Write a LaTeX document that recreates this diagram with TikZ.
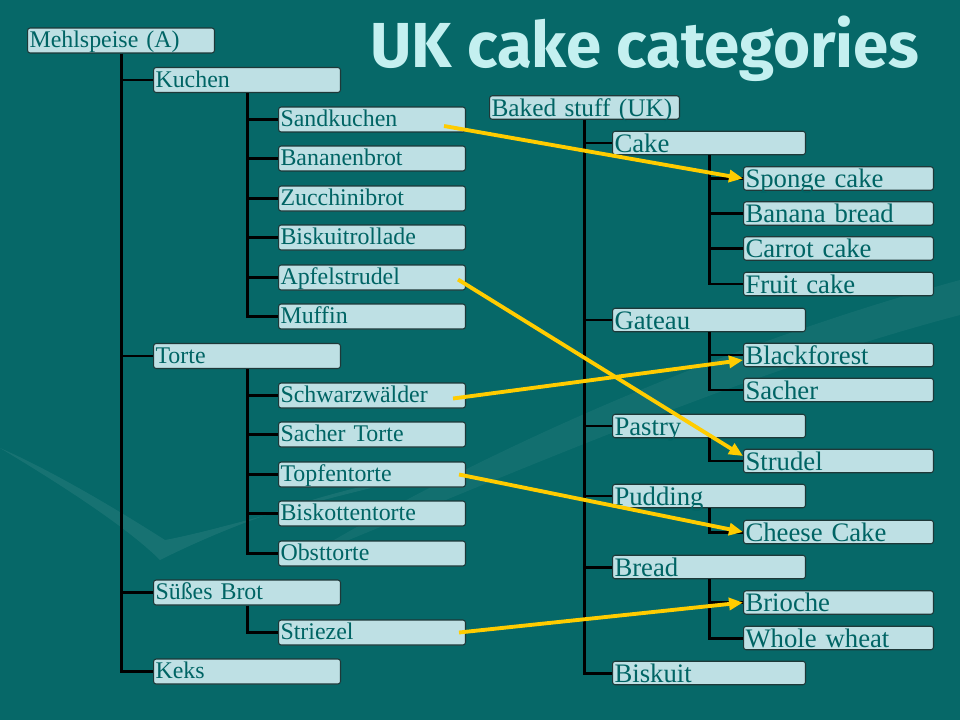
\documentclass[tikz,border=0pt]{standalone}
\usepackage{fontspec}
\setmainfont{Liberation Serif}[WordSpace=0.7]
\newfontfamily\titlefont{Fira Sans}
\usetikzlibrary{arrows.meta}
\definecolor{slidebg}{RGB}{6,104,104}
\definecolor{boxfill}{RGB}{190,224,228}
\definecolor{boxline}{RGB}{30,56,56}
\definecolor{boxtext}{RGB}{0,100,100}
\definecolor{titlecol}{RGB}{196,240,240}
\definecolor{linkcol}{RGB}{255,204,0}
\tikzset{>/.tip={Triangle[length=0.28cm,width=0.24cm]},
  deBox/.style={draw=boxline, line width=0.6pt, fill=boxfill, rounded corners=1.5pt, anchor=west,
    align=left, text width=3.66cm, inner xsep=0.04cm, inner ysep=0pt, minimum height=0.5cm,
    text height=9.5pt, text depth=1.5pt, text=boxtext, font=\fontsize{13.6}{14}\selectfont},
  ukBox/.style={deBox, text width=3.72cm, minimum height=0.47cm, text height=11pt, text depth=0.5pt,
    font=\fontsize{15.2}{16}\selectfont},
  ukMid/.style={ukBox, text width=3.78cm},
  branch/.style={line width=1.7pt, black},
  link/.style={->, line width=2.2pt, linkcol}}

\begin{document}
\begin{tikzpicture}[x=0.02cm, y=-0.02cm]
\fill[slidebg] (0,0) rectangle (960,720);
\useasboundingbox (0,0) rectangle (960,720);
% faint swoosh in the background
\fill[white, opacity=0.07] (0,448) .. controls (70,490) and (130,530) .. (160,560) .. controls (240,520) and (340,485) .. (450,470) .. controls (330,495) and (220,530) .. (165,540) .. controls (110,505) and (50,470) .. (0,448);
\fill[white, opacity=0.05] (300,560) .. controls (500,440) and (740,340) .. (960,280) -- (960,315) .. controls (750,370) and (520,470) .. (300,560);

\node[font=\titlefont\bfseries\fontsize{36.2}{42}\selectfont, text=titlecol, anchor=base] (title) at (645,67) {UK cake categories};

% German tree
\node[deBox] (mehl) at (27,40.5) {Mehlspeise (A)};
\node[deBox] (kuchen) at (153,80) {Kuchen};
\node[deBox] (sandk) at (278,119.5) {Sandkuchen};
\node[deBox] (banan) at (278,158.5) {Bananenbrot};
\node[deBox] (zucch) at (278,198.5) {Zucchinibrot};
\node[deBox] (biskr) at (278,237.5) {Biskuitrollade};
\node[deBox] (apfel) at (278,277.5) {Apfelstrudel};
\node[deBox] (muffin) at (278,316.5) {Muffin};
\node[deBox] (torte) at (153,356) {Torte};
\node[deBox] (schwarz) at (278,395.5) {Schwarzwälder};
\node[deBox] (sacher) at (278,434.5) {Sacher Torte};
\node[deBox] (topfen) at (278,474.5) {Topfentorte};
\node[deBox] (biskot) at (278,513.5) {Biskottentorte};
\node[deBox] (obst) at (278,553.5) {Obsttorte};
\node[deBox] (suess) at (153,592.5) {Süßes Brot};
\node[deBox] (striezel) at (278,632.5) {Striezel};
\node[deBox] (keks) at (153,671.5) {Keks};

% UK tree
\node[ukBox, font=\fontsize{14.4}{16}\selectfont] (baked) at (489,107.5) {\mbox{Baked stuff (UK)}};
\node[ukMid] (cake) at (612,143) {Cake};
\node[ukBox] (sponge) at (743,178.5) {Sponge cake};
\node[ukBox] (banana) at (743,213.5) {Banana bread};
\node[ukBox] (carrot) at (743,248.5) {Carrot cake};
\node[ukBox] (fruit) at (743,284) {Fruit cake};
\node[ukMid] (gateau) at (612,320) {Gateau};
\node[ukBox] (blackf) at (743,355) {Blackforest};
\node[ukBox] (sacherUK) at (743,390) {Sacher};
\node[ukMid] (pastry) at (612,426) {Pastry};
\node[ukBox] (strudel) at (743,461) {Strudel};
\node[ukMid] (pudding) at (612,496) {Pudding};
\node[ukBox] (cheese) at (743,532) {Cheese Cake};
\node[ukMid] (bread) at (612,567) {Bread};
\node[ukBox] (brioche) at (743,602.5) {Brioche};
\node[ukBox] (whole) at (743,638) {Whole wheat};
\node[ukMid] (biskuit) at (612,673) {Biskuit};

\draw[branch] (mehl.south) |- (kuchen.west) (mehl.south) |- (torte.west) (mehl.south) |- (suess.west) (mehl.south) |- (keks.west);
\draw[branch] (kuchen.south) |- (sandk.west) (kuchen.south) |- (banan.west) (kuchen.south) |- (zucch.west) (kuchen.south) |- (biskr.west) (kuchen.south) |- (apfel.west) (kuchen.south) |- (muffin.west);
\draw[branch] (torte.south) |- (schwarz.west) (torte.south) |- (sacher.west) (torte.south) |- (topfen.west) (torte.south) |- (biskot.west) (torte.south) |- (obst.west);
\draw[branch] (suess.south) |- (striezel.west);

\draw[branch] (baked.south) |- (cake.west) (baked.south) |- (gateau.west) (baked.south) |- (pastry.west) (baked.south) |- (pudding.west) (baked.south) |- (bread.west) (baked.south) |- (biskuit.west);
\draw[branch] (cake.south) |- (sponge.west) (cake.south) |- (banana.west) (cake.south) |- (carrot.west) (cake.south) |- (fruit.west);
\draw[branch] (gateau.south) |- (blackf.west) (gateau.south) |- (sacherUK.west);
\draw[branch] (pastry.south) |- (strudel.west);
\draw[branch] (pudding.south) |- (cheese.west);
\draw[branch] (bread.south) |- (brioche.west) (bread.south) |- (whole.west);

% links
\draw[link] ([xshift=-0.44cm,yshift=-0.13cm]sandk.east) -- (sponge.west);
\draw[link] ([xshift=-0.16cm,yshift=-0.04cm]apfel.east) -- ([yshift=0.1cm]strudel.west);
\draw[link] ([xshift=-0.26cm,yshift=-0.06cm]schwarz.east) -- ([yshift=-0.1cm]blackf.west);
\draw[link] ([xshift=-0.14cm]topfen.east) -- (cheese.west);
\draw[link] ([xshift=-0.14cm]striezel.east) -- (brioche.west);
\end{tikzpicture}
\end{document}
